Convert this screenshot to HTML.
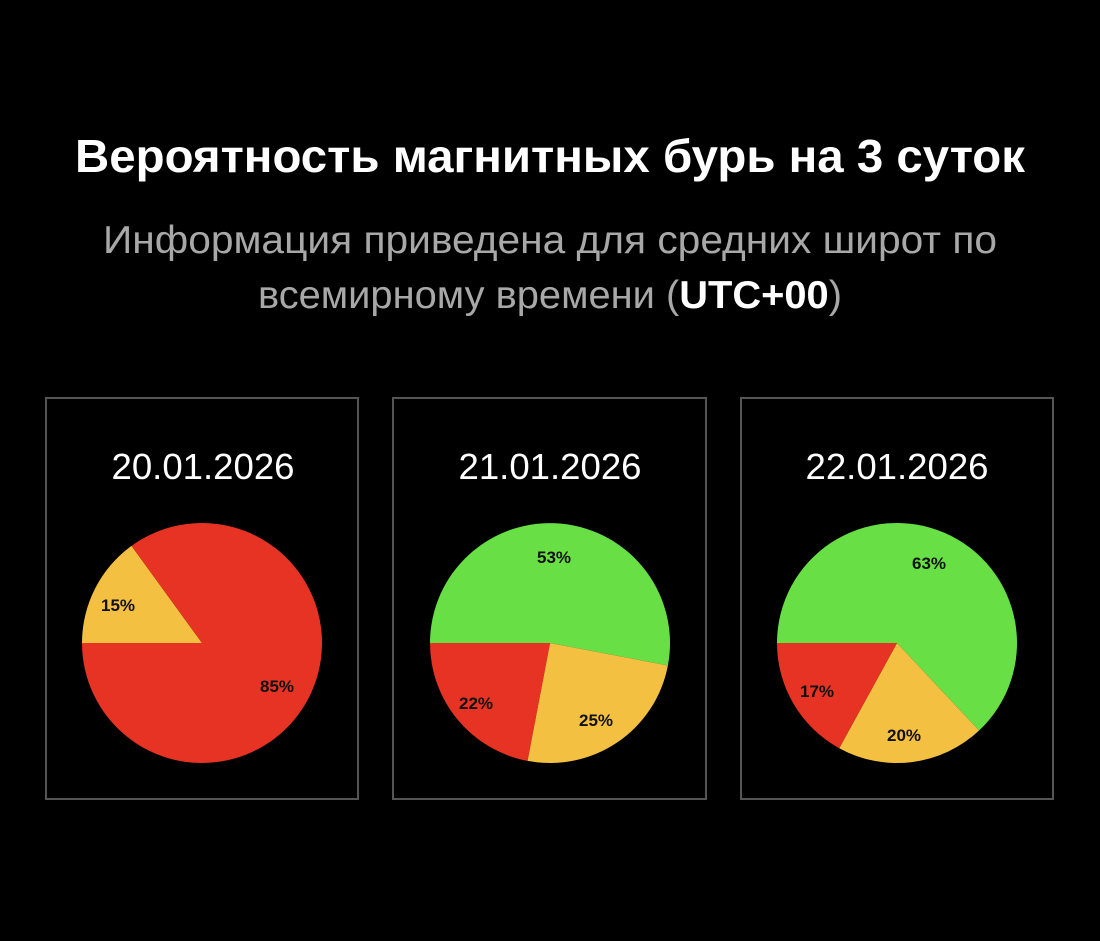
<!DOCTYPE html>
<html><head><meta charset="utf-8"><style>
html,body{margin:0;padding:0;background:#000;width:1100px;height:941px;overflow:hidden}
svg{display:block}
</style></head><body>
<svg width="1100" height="941" xmlns="http://www.w3.org/2000/svg">
<rect width="1100" height="941" fill="#000"/>
<text x="550" y="172" text-anchor="middle" fill="#fff" font-family="Liberation Sans, sans-serif" font-weight="bold" font-size="46" textLength="950" lengthAdjust="spacingAndGlyphs">Вероятность магнитных бурь на 3 суток</text>
<text x="550" y="253" text-anchor="middle" fill="#a8a8a8" font-family="Liberation Sans, sans-serif" font-size="39" textLength="894" lengthAdjust="spacingAndGlyphs">Информация приведена для средних широт по</text>
<text x="550" y="308" text-anchor="middle" fill="#a8a8a8" font-family="Liberation Sans, sans-serif" font-size="39" textLength="584" lengthAdjust="spacingAndGlyphs">всемирному времени (<tspan fill="#fff" font-weight="bold">UTC+00</tspan>)</text>
<g fill="none" stroke="#555" stroke-width="2">
<rect x="46" y="398" width="312" height="401"/>
<rect x="393" y="398" width="313" height="401"/>
<rect x="741" y="398" width="312" height="401"/>
</g>
<g fill="#fff" font-family="Liberation Sans, sans-serif" font-size="36" text-anchor="middle">
<text x="203" y="479" textLength="183" lengthAdjust="spacingAndGlyphs">20.01.2026</text>
<text x="550" y="479" textLength="183" lengthAdjust="spacingAndGlyphs">21.01.2026</text>
<text x="897" y="479" textLength="183" lengthAdjust="spacingAndGlyphs">22.01.2026</text>
</g>
<path d="M202,643 L82,643 A120,120 0 0 1 131.5,545.9 Z" fill="#f3c042"/>
<path d="M202,643 L131.5,545.9 A120,120 0 1 1 82,643 Z" fill="#e63323"/>
<path d="M550,643 L430,643 A120,120 0 1 1 667.9,665.5 Z" fill="#68e045"/>
<path d="M550,643 L667.9,665.5 A120,120 0 0 1 527.5,760.9 Z" fill="#f3c042"/>
<path d="M550,643 L527.5,760.9 A120,120 0 0 1 430,643 Z" fill="#e63323"/>
<path d="M897,643 L777,643 A120,120 0 1 1 979.1,730.5 Z" fill="#68e045"/>
<path d="M897,643 L979.1,730.5 A120,120 0 0 1 839.2,748.2 Z" fill="#f3c042"/>
<path d="M897,643 L839.2,748.2 A120,120 0 0 1 777,643 Z" fill="#e63323"/>
<g fill="#111" font-family="Liberation Sans, sans-serif" font-weight="bold" font-size="17" text-anchor="middle">
<text x="118" y="611">15%</text>
<text x="277" y="692">85%</text>
<text x="554" y="563">53%</text>
<text x="476" y="709">22%</text>
<text x="596" y="726">25%</text>
<text x="929" y="569">63%</text>
<text x="817" y="697">17%</text>
<text x="904" y="741">20%</text>
</g>
</svg>
</body></html>
